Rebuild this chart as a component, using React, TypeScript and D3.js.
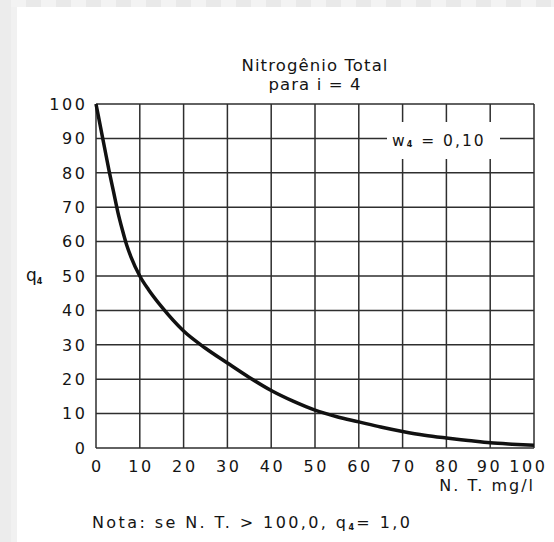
import React from "react";
import * as d3 from "d3";

const ntValues = [0, 1, 2, 3, 4, 5, 6, 7, 8, 10, 12, 15, 20, 25, 30, 35, 40, 45, 50, 55, 60, 65, 70, 75, 80, 85, 90, 95, 100];
const qValues = [100, 93.5, 87, 80.5, 74.5, 68.5, 63.5, 59, 55.5, 50, 46, 41, 34, 29, 24.7, 20.5, 16.7, 13.6, 11, 9.1, 7.6, 6.1, 4.8, 3.7, 2.9, 2.2, 1.5, 1.1, 0.8];
const xTickValues = [0, 10, 20, 30, 40, 50, 60, 70, 80, 90, 100];
const yTickValues = [0, 10, 20, 30, 40, 50, 60, 70, 80, 90, 100];
const titleLines = ["Nitrogênio Total", "para i = 4"];
const weightLabel = { main: "w", sub: "4", rest: " = 0,10" };
const xAxisLabel = "N. T.  mg/l";
const noteText = "Nota: se N. T. > 100,0,  q";
const noteTail = "= 1,0";

const W = 554;
const H = 542;
const FONT = "'DejaVu Sans', Verdana, sans-serif";
const INK = "#141414";
const GRID = "#2e2e2e";

export default function App() {
  const x = d3.scaleLinear().domain([0, 100]).range([96, 534]);
  const y = d3.scaleLinear().domain([0, 100]).range([448, 104]);
  const pts: [number, number][] = ntValues.map((v, i) => [v, qValues[i]]);
  const line = d3
    .line<[number, number]>()
    .x((d) => x(d[0]))
    .y((d) => y(d[1]))
    .curve(d3.curveMonotoneX);

  const topBlocks = d3.range(0, W, 15);
  const tickLS = 2.6;
  const xLabLS = 2;

  return (
    <svg
      width={W}
      height={H}
      style={{ position: "absolute", left: 0, top: 0, display: "block" }}
      fontFamily={FONT}
    >
      <rect x={0} y={0} width={W} height={H} fill="#ececec" />
      {topBlocks.map((bx, i) => (
        <rect key={bx} x={bx + 11} y={0} width={15} height={7} fill={i % 2 === 0 ? "#f3f3f3" : "#e9e9e9"} />
      ))}
      <rect x={11} y={7} width={6} height={H} fill="#f1f1f1" />
      <rect x={17} y={7} width={W - 17} height={H - 7} fill="#ffffff" />

      {/* title */}
      <text x={315} y={70.5} textAnchor="middle" fontSize={16.5} letterSpacing={1.1} fill={INK}>
        {titleLines[0]}
      </text>
      <text x={315} y={89.5} textAnchor="middle" fontSize={16.5} letterSpacing={1.1} fill={INK}>
        {titleLines[1]}
      </text>

      {/* grid */}
      {xTickValues.map((t) => (
        <line key={"vx" + t} x1={x(t)} x2={x(t)} y1={y(100)} y2={y(0)} stroke={GRID} strokeWidth={1.5} />
      ))}
      {yTickValues.map((t) => (
        <line key={"hy" + t} x1={x(0)} x2={x(100)} y1={y(t)} y2={y(t)} stroke={GRID} strokeWidth={1.5} />
      ))}

      {/* label box */}
      <rect x={387} y={122} width={113} height={37} fill="#ffffff" />
      <text x={392} y={146} fontSize={15.5} letterSpacing={2} fill={INK}>
        {weightLabel.main}
        <tspan fontSize={8} fontWeight="bold" dy={1}>{weightLabel.sub}</tspan>
        <tspan dy={-1}>{weightLabel.rest}</tspan>
      </text>

      {/* curve */}
      <path d={line(pts) || ""} fill="none" stroke="#111" strokeWidth={3.5} strokeLinejoin="round" />

      {/* y ticks */}
      {yTickValues.map((t) => (
        <text key={"yt" + t} x={85 + tickLS} y={y(t)} dy="0.36em" textAnchor="end" fontSize={16} letterSpacing={tickLS} fill={INK}>
          {t}
        </text>
      ))}
      {/* x ticks */}
      {xTickValues.map((t) => (
        <text
          key={"xt" + t}
          x={x(t) + tickLS / 2 + (t === 100 ? -7 : t === 90 ? -2 : 0)}
          y={471.5}
          textAnchor="middle"
          fontSize={16}
          letterSpacing={tickLS}
          fill={INK}
        >
          {t}
        </text>
      ))}

      {/* y label */}
      <text x={26} y={281} fontSize={17} fill={INK}>
        q<tspan fontSize={8} fontWeight="bold" dy={3}>4</tspan>
      </text>

      {/* x label */}
      <text x={533 + xLabLS} y={491} textAnchor="end" fontSize={16} letterSpacing={xLabLS} fill={INK}>
        {xAxisLabel}
      </text>

      {/* note */}
      <text x={92} y={528} fontSize={16} letterSpacing={2.4} fill={INK}>
        {noteText}
        <tspan fontSize={8} fontWeight="bold" dy={2}>4</tspan>
        <tspan dy={-2}>{noteTail}</tspan>
      </text>
    </svg>
  );
}
